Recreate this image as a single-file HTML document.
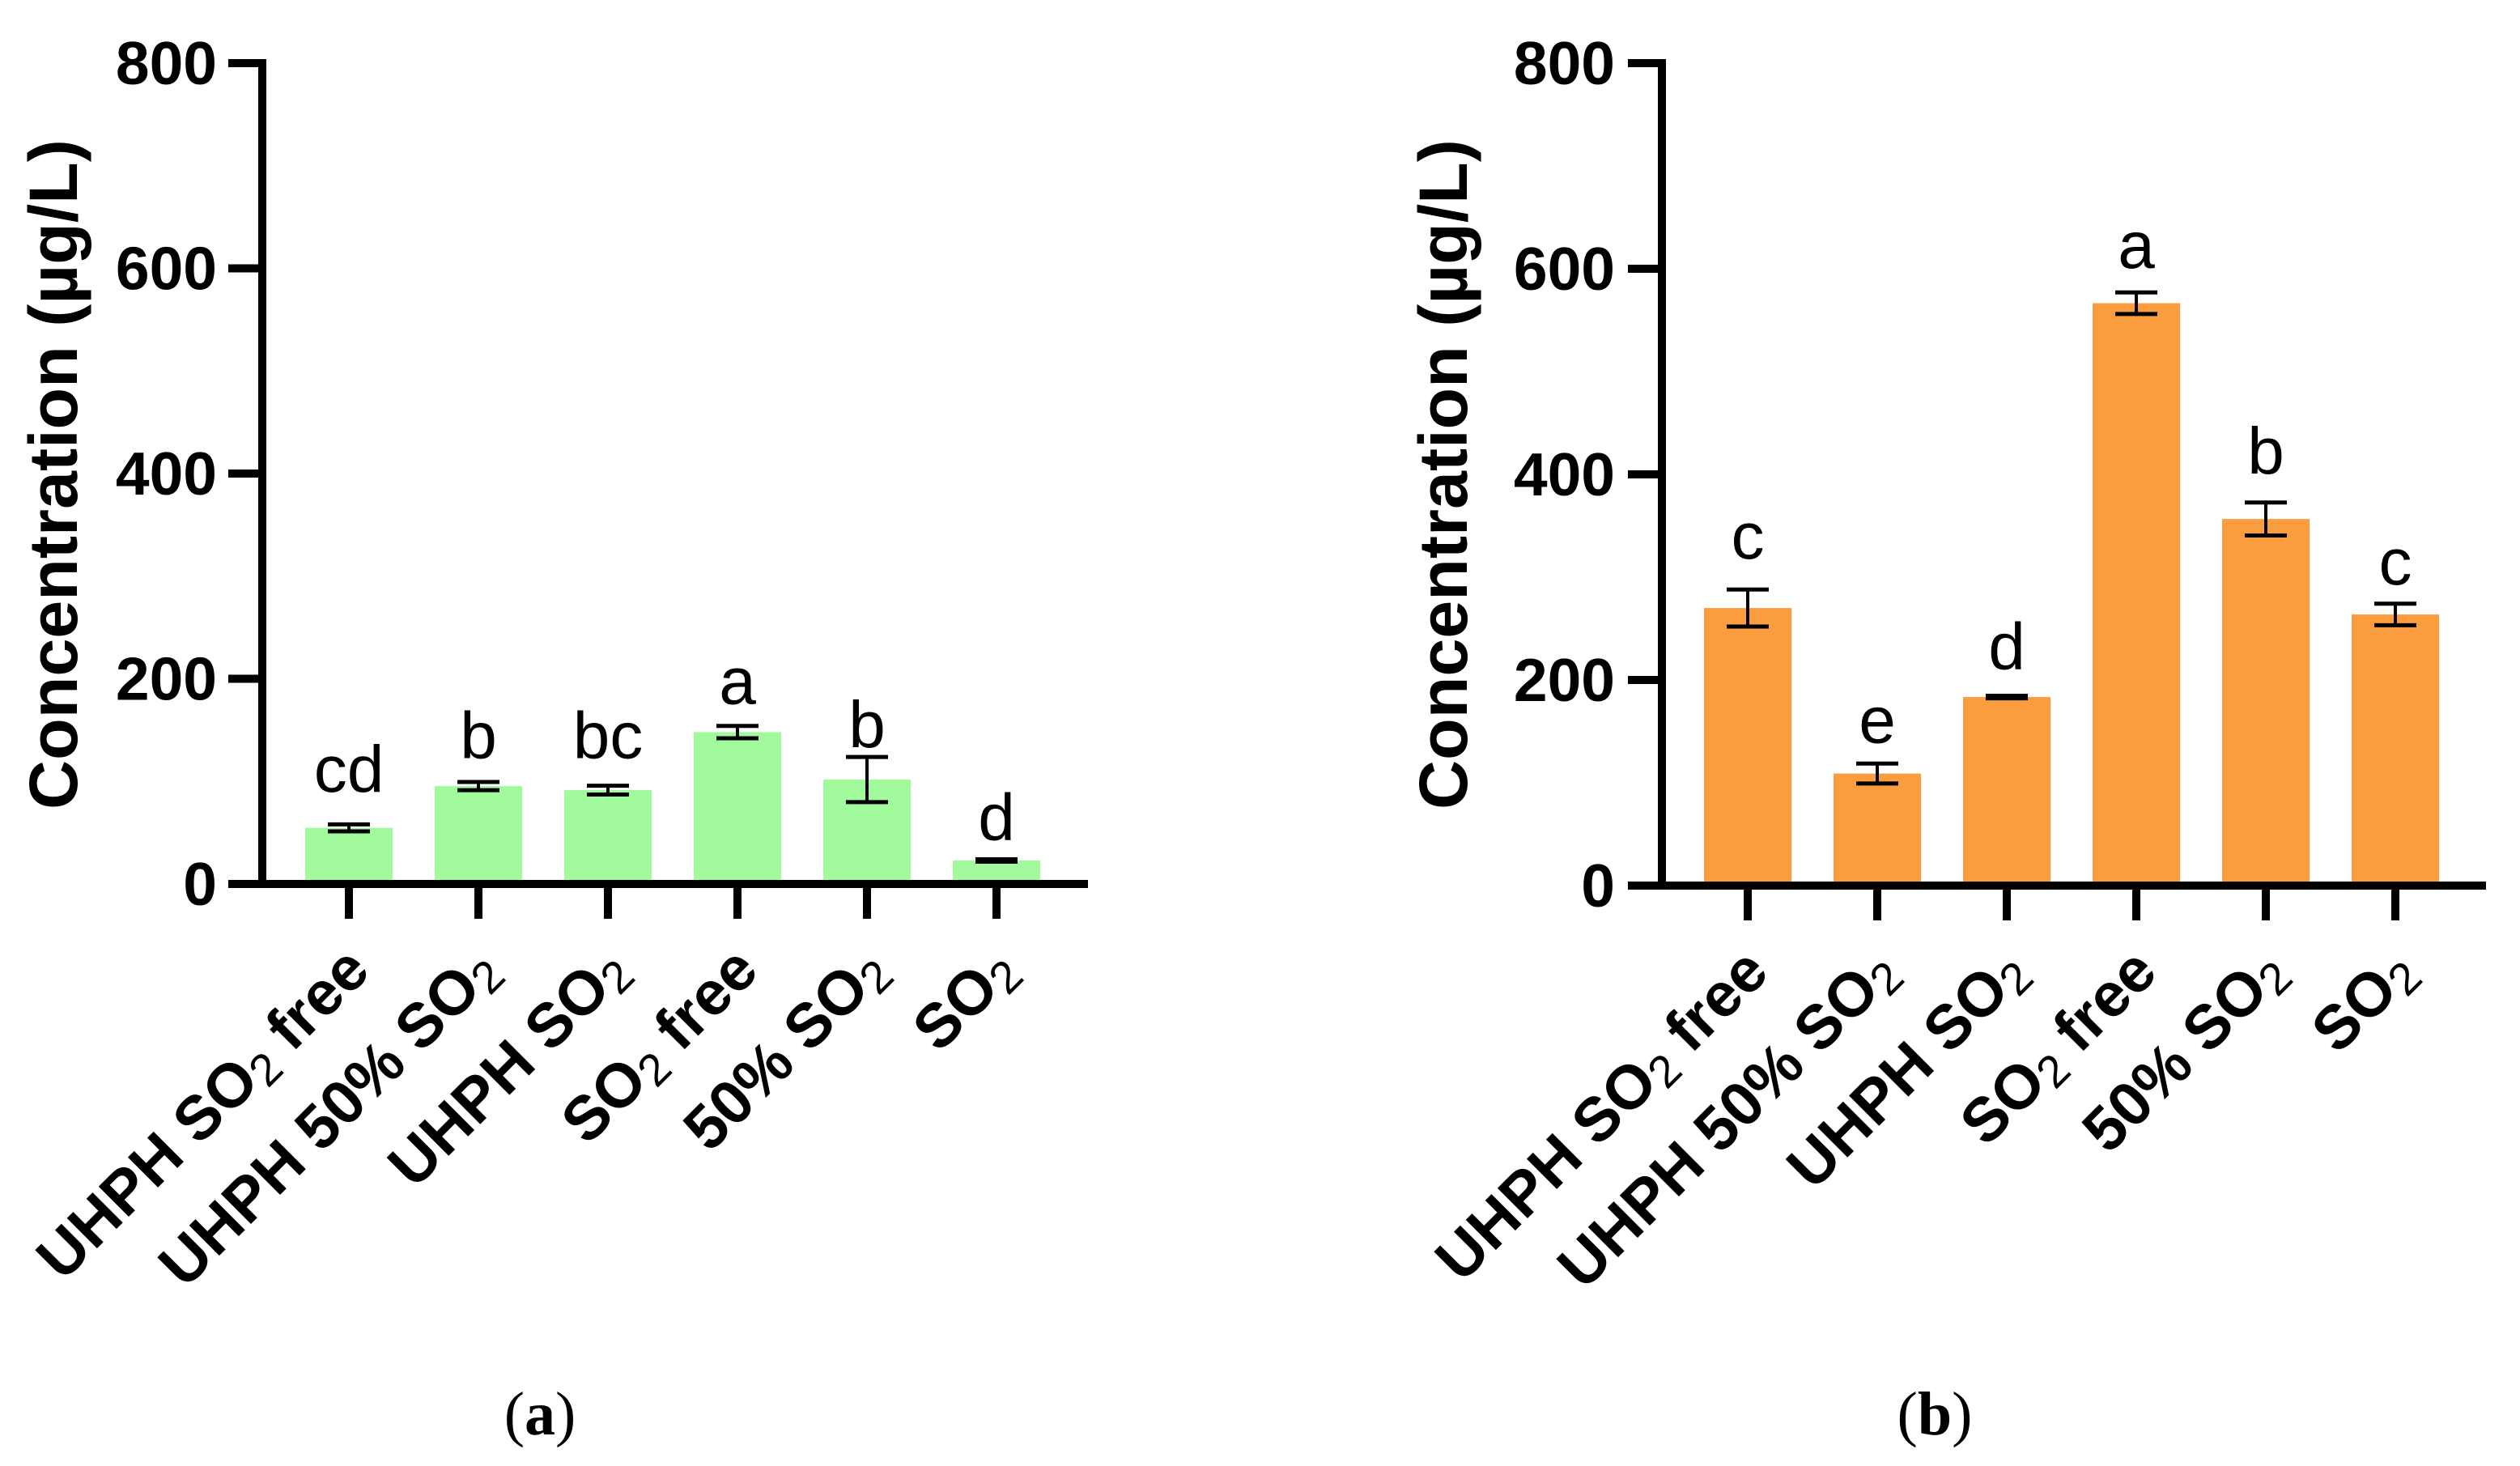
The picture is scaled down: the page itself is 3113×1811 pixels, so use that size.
<!DOCTYPE html>
<html lang="en">
<head>
<meta charset="utf-8">
<title>Concentration bar charts</title>
<style>
html,body{margin:0;padding:0;background:#fff;width:3113px;height:1811px;overflow:hidden}
svg{display:block}
text{font-family:"Liberation Sans",Arial,sans-serif;fill:#000}
</style>
</head>
<body>
<svg id="figure" xmlns="http://www.w3.org/2000/svg" width="3113" height="1811" viewBox="0 0 3113 1811">
  <rect x="0" y="0" width="3113" height="1811" fill="#ffffff"/>
  <g id="panel-a"></g>
  <g id="panel-b"></g>
  <text x="667" y="1772" text-anchor="middle" font-size="76" style="font-family:'Liberation Serif',serif">(<tspan font-weight="bold">a</tspan>)</text>
  <text x="2390" y="1772" text-anchor="middle" font-size="76" style="font-family:'Liberation Serif',serif">(<tspan font-weight="bold">b</tspan>)</text>
</svg>
<script>
var categories = ["UHPH SO2 free", "UHPH 50% SO2", "UHPH SO2", "SO2 free", "50% SO2", "SO2"];
var yTickLabels = [0, 200, 400, 600, 800];
var yAxisTitle = "Concentration (µg/L)";

var valuesA = [54.7, 95.4, 91.5, 148, 101.8, 22.9];
var errorsA = [3.4, 4, 4.3, 6, 22, 1.2];
var lettersA = ["cd", "b", "bc", "a", "b", "d"];
var letterLevelsA = [90, 122.5, 122.5, 175.5, 133.5, 43];

var valuesB = [270, 109, 183.4, 566.5, 356.6, 263.7];
var errorsB = [18, 9.7, 1.2, 10.5, 16, 10.5];
var lettersB = ["c", "e", "d", "a", "b", "c"];
var letterLevelsB = [318, 139, 210.6, 600.8, 400.8, 292.9];

var SVG_NS = "http://www.w3.org/2000/svg";

function makeScaleY(pixelAtZero, pixelAtMax, maxValue) {
  return function (v) { return pixelAtZero + (pixelAtMax - pixelAtZero) * v / maxValue; };
}
function makeScaleX(firstCenter, step) {
  return function (i) { return firstCenter + step * i; };
}
function line(parent, x1, y1, x2, y2, width) {
  var el = document.createElementNS(SVG_NS, "line");
  el.setAttribute("x1", x1);
  el.setAttribute("y1", y1);
  el.setAttribute("x2", x2);
  el.setAttribute("y2", y2);
  el.setAttribute("stroke", "#000");
  el.setAttribute("stroke-width", width);
  parent.appendChild(el);
  return el;
}
function label(parent, x, y, content, size, weight, anchor) {
  var el = document.createElementNS(SVG_NS, "text");
  el.setAttribute("x", x);
  el.setAttribute("y", y);
  el.setAttribute("font-size", size);
  el.setAttribute("font-weight", weight);
  el.setAttribute("text-anchor", anchor);
  el.textContent = content;
  parent.appendChild(el);
  return el;
}

function drawPanel(cfg) {
  var root = document.getElementById(cfg.id);
  var y = makeScaleY(cfg.y0, cfg.yTop, 800);
  var x = makeScaleX(cfg.x0, cfg.step);

  /* bars */
  cfg.values.forEach(function (v, i) {
    var bar = document.createElementNS(SVG_NS, "rect");
    
    
    bar.setAttribute("x", x(i) - 54);
    bar.setAttribute("y", y(v));
    bar.setAttribute("width", 108);
    bar.setAttribute("height", cfg.y0 - y(v));
    bar.setAttribute("fill", cfg.color);
    root.appendChild(bar);
  });

  /* y axis */
  var yAxis = line(root, cfg.axisX, cfg.yTop - 5, cfg.axisX, cfg.y0 + 5, 10);
  
  

  yTickLabels.forEach(function (t) {
    var tick = line(root, cfg.axisLeft, y(t), cfg.axisX, y(t), 10);
    
    
    var tickText = label(root, cfg.yLabelRight, y(t) + 26, String(t), 75, "bold", "end");
    
    
  });

  /* x axis */
  var xAxis = line(root, cfg.axisLeft, cfg.y0, cfg.axisRight, cfg.y0, 10);
  
  

  /* y title */
  var title = label(root, 0, 0, yAxisTitle, 84.5, "bold", "middle");
  title.setAttribute("transform", "translate(" + cfg.titleX + ",586) rotate(-90)");
  
  

  /* categories */
  categories.forEach(function (name, i) {
    var tick = line(root, x(i), cfg.y0, x(i), cfg.y0 + 43, 10);
    
    

    var lx = x(i) + 29;
    var ly = cfg.y0 + 110;
    var t = label(root, lx, ly, "", 76.5, "bold", "end");
    t.setAttribute("transform", "rotate(-45 " + lx + " " + ly + ")");
    
    
    var parts = name.split("SO2");
    t.appendChild(document.createTextNode(parts[0] + "SO"));
    var sub = document.createElementNS(SVG_NS, "tspan");
    sub.setAttribute("font-weight", "normal");
    sub.setAttribute("font-size", "56");
    sub.setAttribute("dy", "10");
    sub.textContent = "2";
    t.appendChild(sub);
    if (parts[1]) {
      var rest = document.createElementNS(SVG_NS, "tspan");
      rest.setAttribute("dy", "-10");
      rest.textContent = "\u00A0" + parts[1].trim();
      t.appendChild(rest);
    }
  });

  /* error bars */
  cfg.values.forEach(function (v, i) {
    var hi = y(v + cfg.errors[i]);
    var lo = y(v - cfg.errors[i]);
    var stem = line(root, x(i), hi, x(i), lo, 4);
    
    
    var capTop = line(root, x(i) - 26, hi, x(i) + 26, hi, 5);
    
    
    var capBottom = line(root, x(i) - 26, lo, x(i) + 26, lo, 5);
    
    
  });

  /* significance letters */
  cfg.letters.forEach(function (s, i) {
    var sig = label(root, x(i), y(cfg.letterLevels[i]), s, 82, "normal", "middle");
    
    
  });
}

drawPanel({
  id: "panel-a", color: "#a1fb9c",
  values: valuesA, errors: errorsA, letters: lettersA, letterLevels: letterLevelsA,
  y0: 1092, yTop: 78, x0: 431, step: 160,
  axisX: 324, axisLeft: 282, axisRight: 1344, yLabelRight: 268, titleX: 95
});
drawPanel({
  id: "panel-b", color: "#fb9d3f",
  values: valuesB, errors: errorsB, letters: lettersB, letterLevels: letterLevelsB,
  y0: 1094, yTop: 78, x0: 2159, step: 160,
  axisX: 2053, axisLeft: 2011, axisRight: 3071, yLabelRight: 1995, titleX: 1812
});
</script>
</body>
</html>
